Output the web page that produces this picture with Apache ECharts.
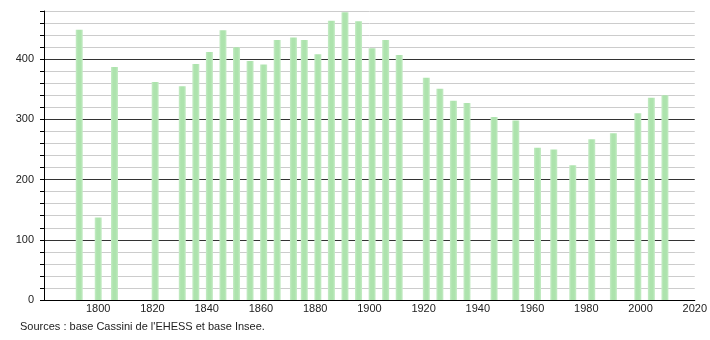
<!DOCTYPE html>
<html>
<head>
<meta charset="utf-8">
<script src="https://cdn.jsdelivr.net/npm/echarts@6/dist/echarts.min.js"></script>
<style>
html,body{margin:0;padding:0;background:#fff;}
#c{width:710px;height:340px;}
</style>
</head>
<body>
<div id="c"></div>
<script>
const years = [1793,1800,1806,1821,1831,1836,1841,1846,1851,1856,1861,1866,1872,1876,1881,1886,1891,1896,1901,1906,1911,1921,1926,1931,1936,1946,1954,1962,1968,1975,1982,1990,1999,2004,2009];
const population = [449,137,387,362,355,392,412,448,420,397,391,432,436,432,408,464,478,463,418,432,407,369,351,331,327,304,298,253,250,224,267,277,310,336,340];
const xTicks = {min:1780, max:2020, interval:20};
const yTicks = {min:0, max:480, interval:20, labelStep:100};
const sourceText = "Sources : base Cassini de l'EHESS et base Insee.";

const data = years.map((y,i)=>[y,population[i]]);
const splitColors = [];
for (let i=0;i<5;i++) splitColors.push(i===0 ? '#333333' : '#cccccc');

const chart = echarts.init(document.getElementById('c'), null, {renderer:'canvas'});
chart.setOption({
  animation:false,
  backgroundColor:'#ffffff',
  textStyle:{fontFamily:'Liberation Sans, Arial, sans-serif'},
  grid:{left:44, right:10, top:11, bottom:40, containLabel:false},
  xAxis:{
    type:'value', min:xTicks.min, max:xTicks.max, interval:xTicks.interval,
    axisLine:{show:true, lineStyle:{color:'#000', width:1}},
    axisTick:{show:false},
    splitLine:{show:false},
    axisLabel:{showMinLabel:false, color:'#222', fontSize:11, margin:3, fontFamily:'Liberation Sans, Arial, sans-serif',
      formatter:(v)=>String(v)}
  },
  yAxis:{
    type:'value', min:yTicks.min, max:yTicks.max, interval:yTicks.interval,
    axisLine:{show:true, onZero:false, lineStyle:{color:'#000', width:1}},
    axisTick:{show:true, length:4, lineStyle:{color:'#000'}},
    splitLine:{show:true, lineStyle:{color:splitColors, width:1}},
    axisLabel:{
      color:'#222', fontSize:11, margin:10, fontFamily:'Liberation Sans, Arial, sans-serif',
      formatter:(v)=> (v % yTicks.labelStep === 0 ? String(v) : '')
    }
  },
  series:[{
    type:'bar',
    data:data,
    barWidth:7,
    itemStyle:{
      color:new echarts.graphic.LinearGradient(0,0,1,0,[
        {offset:0,color:'#c6ecc6'},
        {offset:0.3,color:'#ade3ad'},
        {offset:0.7,color:'#ade3ad'},
        {offset:1,color:'#c6ecc6'}
      ])
    }
  }],
  graphic:[{
    type:'text', left:20, top:321,
    style:{text:sourceText, fill:'#222', font:'11px "Liberation Sans", Arial, sans-serif'}
  }]
});
</script>
</body>
</html>
